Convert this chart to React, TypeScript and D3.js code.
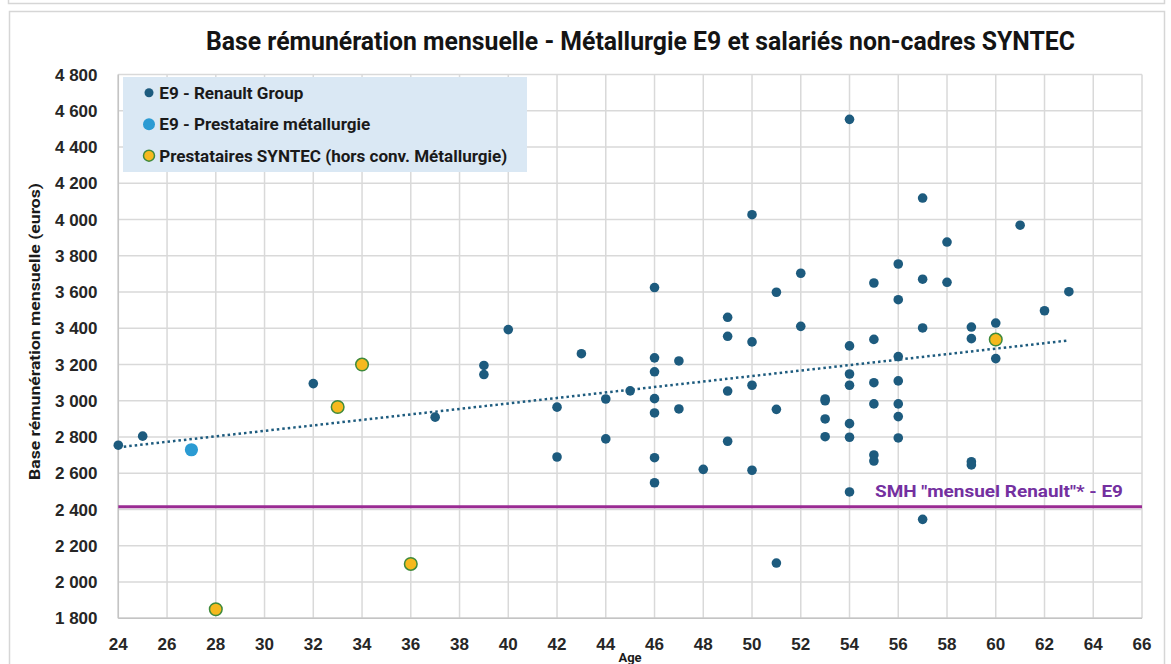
import React from 'react'
import * as d3 from 'd3'

// E9 - Renault Group (age, base mensuelle)
const renaultAges = [
  24, 25, 32, 37, 39, 39, 40, 42, 42, 43, 44, 44, 45,
  46, 46, 46, 46, 46, 46, 46, 47, 47, 48,
  49, 49, 49, 49, 50, 50, 50, 50, 51, 51, 51, 52, 52,
  53, 53, 53, 53, 54, 54, 54, 54, 54, 54, 54,
  55, 55, 55, 55, 55, 55, 56, 56, 56, 56, 56, 56, 56,
  57, 57, 57, 57, 58, 58, 59, 59, 59, 59, 60, 60, 61, 62, 63
]
const renaultValues = [
  2755, 2805, 3095, 2910, 3195, 3145, 3393, 2965, 2690, 3260, 3010, 2790, 3055,
  3625, 3237, 3160, 3012, 2933, 2686, 2548, 3220, 2955, 2622,
  3461, 3356, 3054, 2777, 4027, 3325, 3086, 2617, 3599, 2953, 2105, 3704, 3411,
  3010, 3000, 2900, 2802, 4553, 3303, 3148, 3086, 2874, 2799, 2497,
  3650, 3339, 3100, 2983, 2701, 2668, 3755, 3558, 3244, 3110, 2983, 2913, 2795,
  4119, 3671, 3402, 2346, 3876, 3654, 3407, 3343, 2664, 2646, 3429, 3233, 3969, 3497, 3602
]

// E9 - Prestataire métallurgie
const metalAges = [27]
const metalValues = [2730]

// Prestataires SYNTEC
const syntecAges = [28, 33, 34, 36, 60]
const syntecValues = [1850, 2966, 3200, 2100, 3338]

const smhValue = 2416
const smhLabel = 'SMH "mensuel Renault"* - E9'

const xTicks = d3.range(24, 67, 2)
const yTicks = d3.range(1800, 4801, 200)

const legendItems = [
  { label: 'E9 - Renault Group', width: 144 },
  { label: 'E9 - Prestataire métallurgie', width: 211 },
  { label: 'Prestataires SYNTEC (hors conv. Métallurgie)', width: 348 }
]

const W = 1171
const H = 664

const fmt = d3.formatLocale({ decimal: ',', thousands: ' ', grouping: [3], currency: ['', ' €'] }).format(',')

const DARK = '#1d5b7e'
const LIGHT = '#2b9bd3'
const YELLOW = '#f6b91e'
const GREEN = '#3f8a3c'

export default function App() {
  const x = d3.scaleLinear().domain([24, 66]).range([118.3, 1142])
  const y = d3.scaleLinear().domain([1800, 4800]).range([618.3, 74.6])

  // linear trend on Renault Group series
  const mx = d3.mean(renaultAges)
  const my = d3.mean(renaultValues)
  let num = 0
  let den = 0
  renaultAges.forEach((a, i) => {
    num += (a - mx) * (renaultValues[i] - my)
    den += (a - mx) * (a - mx)
  })
  const slope = num / den
  const intercept = my - slope * mx
  const [minAge, maxAge] = d3.extent(renaultAges)
  const trend = d3.line()
    .x(d => x(d))
    .y(d => y(intercept + slope * d))([minAge, maxAge])

  const tickFont = { fontFamily: '"Liberation Sans", Arial, sans-serif', fontWeight: 700, fontSize: 17, fill: '#262626' }
  const narrow = { fontFamily: 'Roboto, "Noto Sans", sans-serif', fontWeight: 700 }

  return (
    <svg width={W} height={H} style={{ position: 'absolute', left: 0, top: 0, background: '#fff' }}>
      {/* card frames */}
      <path d="M8.5,0 V3.5 H1164.5 V0" fill="none" stroke="#d6d6d6" strokeWidth={1.5} />
      <rect x={9.5} y={11.5} width={1155} height={H} fill="#fff" stroke="#d6d6d6" strokeWidth={1.5} />

      <text x={206} y={50} textLength={869} lengthAdjust="spacingAndGlyphs"
        style={{ ...narrow, fontSize: 25, fill: '#141414' }}>
        Base rémunération mensuelle - Métallurgie E9 et salariés non-cadres SYNTEC
      </text>

      {/* grid */}
      <g stroke="#d9d9d9" strokeWidth={1.5}>
        {xTicks.map(t => (
          <line key={'gx' + t} x1={x(t)} x2={x(t)} y1={y(4800)} y2={y(1800)} />
        ))}
        {yTicks.map(t => (
          <line key={'gy' + t} x1={x(24)} x2={x(66)} y1={y(t)} y2={y(t)} />
        ))}
      </g>
      <line x1={x(24)} x2={x(24)} y1={y(4800)} y2={y(1800)} stroke="#c4c4c4" strokeWidth={1.5} />
      <line x1={x(24)} x2={x(66)} y1={y(1800)} y2={y(1800)} stroke="#c4c4c4" strokeWidth={1.5} />

      {/* tick labels */}
      {yTicks.map(t => (
        <text key={'ty' + t} x={97.5} y={y(t)} dy="0.36em" textAnchor="end" style={tickFont}>{fmt(t)}</text>
      ))}
      {xTicks.map(t => (
        <text key={'tx' + t} x={x(t)} y={650} textAnchor="middle" style={tickFont}>{t}</text>
      ))}

      <text transform="translate(40,331.5) rotate(-90)" textAnchor="middle" textLength={297} lengthAdjust="spacingAndGlyphs"
        style={{ ...narrow, fontSize: 15, fill: '#1a1a1a' }}>
        Base rémunération mensuelle (euros)
      </text>
      <text x={630} y={662} textAnchor="middle" style={{ ...narrow, fontSize: 13, fill: '#1a1a1a' }}>Age</text>

      {/* legend */}
      <rect x={123} y={77} width={404} height={95} fill="#dae8f4" />
      {legendItems.map((item, i) => {
        const cy = 92.7 + i * 31.5
        return (
          <g key={item.label}>
            {i === 0 && <circle cx={149} cy={cy} r={4.5} fill={DARK} />}
            {i === 1 && <circle cx={149} cy={cy} r={6} fill={LIGHT} />}
            {i === 2 && <circle cx={149} cy={cy} r={5.5} fill={YELLOW} stroke={GREEN} strokeWidth={1.5} />}
            <text x={159.3} y={cy + 6} textLength={item.width} lengthAdjust="spacingAndGlyphs"
              style={{ ...narrow, fontSize: 16, fill: '#1a1a1a' }}>
              {item.label}
            </text>
          </g>
        )
      })}

      {/* SMH reference */}
      <line x1={x(24)} x2={x(66)} y1={y(smhValue)} y2={y(smhValue)} stroke="#9a2b93" strokeWidth={3} />
      <text x={875} y={497} textLength={248} lengthAdjust="spacingAndGlyphs"
        style={{ ...narrow, fontSize: 17, fill: '#7430a0' }}>
        {smhLabel}
      </text>

      {/* points */}
      {renaultAges.map((a, i) => (
        <circle key={'r' + i} cx={x(a)} cy={y(renaultValues[i])} r={4.8} fill={DARK} />
      ))}
      {metalAges.map((a, i) => (
        <circle key={'m' + i} cx={x(a)} cy={y(metalValues[i])} r={6.6} fill={LIGHT} />
      ))}

      <path d={trend} fill="none" stroke={DARK} strokeWidth={2.5} strokeDasharray="2.5 3" />

      {syntecAges.map((a, i) => (
        <circle key={'s' + i} cx={x(a)} cy={y(syntecValues[i])} r={6.3} fill={YELLOW} stroke={GREEN} strokeWidth={1.5} />
      ))}
    </svg>
  )
}
